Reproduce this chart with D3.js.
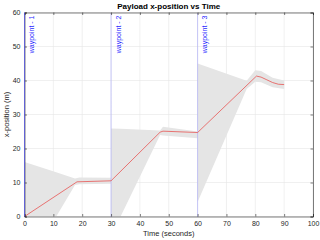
<!DOCTYPE html>
<html>
<head>
<meta charset="utf-8">
<script src="https://cdn.jsdelivr.net/npm/d3@7"></script>
<style>
  body { margin: 0; background: #fff; }
  text { font-family: "Liberation Sans", Arial, sans-serif; }
</style>
</head>
<body>
<script>
// payload x-position (m) over time (s)
const lineTime = [0, 18.2, 30, 47, 48, 60, 80.4, 82, 84, 86, 88, 90];
const lineX    = [0, 10.2, 10.5, 24.8, 25.1, 24.7, 41.3, 41.0, 40.2, 39.4, 38.9, 38.8];

// uncertainty band, one per leg
const bandTime = [
  [0, 11, 17.5, 19, 30],
  [30, 33.3, 47, 48, 60],
  [60, 77, 80, 82, 86, 90]
];
const bandLow = [
  [0, 0, 9.3, 9.5, 9.6],
  [0, 0, 24.0, 23.8, 23.0],
  [4.3, 37.5, 39.6, 39.5, 38.0, 37.5]
];
const bandHigh = [
  [16, 13, 11.2, 11.5, 11.4],
  [25.9, 25.8, 25.3, 26.4, 25.0],
  [45, 39.9, 43, 42.8, 40.8, 40]
];

const waypoints = [0, 30, 60];
const waypointLabels = ["waypoint - 1", "waypoint - 2", "waypoint - 3"];
const xTicks = [0, 10, 20, 30, 40, 50, 60, 70, 80, 90, 100];
const yTicks = [0, 10, 20, 30, 40, 50, 60];

const width = 320, height = 240;
const margin = {left: 24.5, right: 7, top: 12.5, bottom: 23.5};

const svg = d3.select(document.body).append("svg")
  .attr("width", width)
  .attr("height", height);

const x = d3.scaleLinear().domain([0, 100]).range([margin.left, width - margin.right]);
const y = d3.scaleLinear().domain([0, 60]).range([height - margin.bottom, margin.top]);

// grid
svg.append("g")
  .selectAll("line")
  .data(xTicks)
  .join("line")
    .attr("x1", d => x(d)).attr("x2", d => x(d))
    .attr("y1", y(0)).attr("y2", y(60))
    .attr("stroke", "#e6e6e6").attr("stroke-width", 0.6);
svg.append("g")
  .selectAll("line")
  .data(yTicks)
  .join("line")
    .attr("x1", x(0)).attr("x2", x(100))
    .attr("y1", d => y(d)).attr("y2", d => y(d))
    .attr("stroke", "#e6e6e6").attr("stroke-width", 0.6);

// bands
const area = d3.area()
  .x(d => x(d.t))
  .y0(d => y(d.lo))
  .y1(d => y(d.hi));

svg.append("g")
  .selectAll("path")
  .data(bandTime.map((ts, k) => ts.map((t, i) => ({t, lo: bandLow[k][i], hi: bandHigh[k][i]}))))
  .join("path")
    .attr("d", area)
    .attr("fill", "#e5e5e5");

// waypoint lines
svg.append("g")
  .selectAll("line")
  .data(waypoints)
  .join("line")
    .attr("x1", d => x(d)).attr("x2", d => x(d))
    .attr("y1", y(0)).attr("y2", y(60))
    .attr("stroke", "#8080ff")
    .attr("stroke-width", 0.8)
    .attr("stroke-dasharray", "1,1");

// labels read bottom-to-top, hung from the top of the axes
svg.append("g")
  .selectAll("text")
  .data(waypoints)
  .join("text")
    .attr("transform", d => `translate(${x(d) + 9.5},${y(60) + 3}) rotate(-90)`)
    .attr("text-anchor", "end")
    .attr("font-size", 7)
    .attr("fill", "#2a2aff")
    .text((d, i) => waypointLabels[i]);

// trajectory
const line = d3.line()
  .x((d, i) => x(lineTime[i]))
  .y(d => y(d));

svg.append("path")
  .attr("d", line(lineX))
  .attr("fill", "none")
  .attr("stroke", "#e8403f")
  .attr("stroke-width", 0.7);

// axes (box style)
const axisColor = "#262626";
const xAxis = svg.append("g")
  .attr("transform", `translate(0,${y(0)})`)
  .call(d3.axisBottom(x).tickValues(xTicks).tickSize(-2.5).tickPadding(5));
const yAxis = svg.append("g")
  .attr("transform", `translate(${x(0)},0)`)
  .call(d3.axisLeft(y).tickValues(yTicks).tickSize(-2.5).tickPadding(4));
const xTop = svg.append("g")
  .attr("transform", `translate(0,${y(60)})`)
  .call(d3.axisTop(x).tickValues(xTicks).tickSize(-2.5).tickFormat(""));
const yRight = svg.append("g")
  .attr("transform", `translate(${x(100)},0)`)
  .call(d3.axisRight(y).tickValues(yTicks).tickSize(-2.5).tickFormat(""));

[xAxis, yAxis, xTop, yRight].forEach(g => {
  g.selectAll("path").attr("stroke", axisColor).attr("stroke-width", 0.6);
  g.selectAll("line").attr("stroke", axisColor).attr("stroke-width", 0.6);
  g.selectAll("text")
    .attr("fill", axisColor)
    .attr("font-size", 7)
    .style("font-family", "Liberation Sans, Arial, sans-serif");
});

// the blue waypoint line at t=0 sits on top of the y axis
svg.append("line")
  .attr("x1", x(0)).attr("x2", x(0))
  .attr("y1", y(0)).attr("y2", y(60))
  .attr("stroke", "#5555dd").attr("stroke-width", 0.8);

// titles
svg.append("text")
  .attr("x", (x(0) + x(100)) / 2)
  .attr("y", 9)
  .attr("text-anchor", "middle")
  .attr("font-size", 8)
  .attr("font-weight", "bold")
  .attr("fill", "#000")
  .text("Payload x-position vs Time");

svg.append("text")
  .attr("x", (x(0) + x(100)) / 2)
  .attr("y", 236)
  .attr("text-anchor", "middle")
  .attr("font-size", 7.5)
  .attr("fill", axisColor)
  .text("Time (seconds)");

svg.append("text")
  .attr("transform", `translate(9,${(y(0) + y(60)) / 2}) rotate(-90)`)
  .attr("text-anchor", "middle")
  .attr("font-size", 7.5)
  .attr("fill", axisColor)
  .text("x-position (m)");
</script>
</body>
</html>
